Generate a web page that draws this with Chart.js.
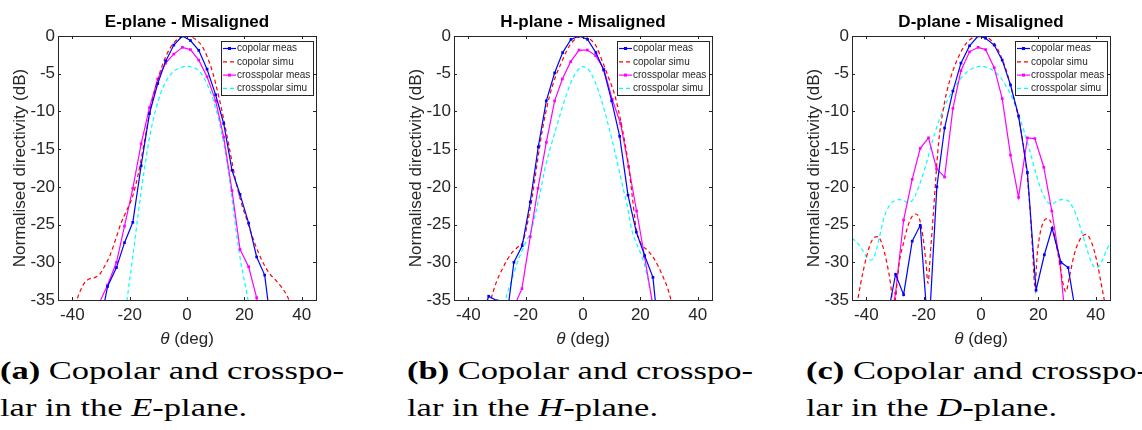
<!DOCTYPE html>
<html>
<head>
<meta charset="utf-8">
<script src="https://cdn.jsdelivr.net/npm/chart.js@4.4.1/dist/chart.umd.min.js"></script>
<style>
  html, body { margin: 0; padding: 0; background: #fff; }
  body { width: 1142px; height: 430px; position: relative; overflow: hidden; }
  .panel { position: absolute; top: 0; width: 330px; height: 350px; }
  .caption {
    position: absolute; top: 352px;
    font-family: 'Liberation Serif', serif; font-size: 25px; line-height: 37px;
    color: #000; white-space: nowrap;
    transform-origin: 0 0; transform: scaleX(1.38);
  }
</style>
</head>
<body>
<div class="panel" style="left:0px"><canvas id="chartE"></canvas></div>
<div class="panel" style="left:396px"><canvas id="chartH"></canvas></div>
<div class="panel" style="left:794px"><canvas id="chartD"></canvas></div>

<div class="caption" style="left:0px"><b>(a)</b> Copolar and crosspo-<br>lar in the <i>E</i>-plane.</div>
<div class="caption" style="left:407px"><b>(b)</b> Copolar and crosspo-<br>lar in the <i>H</i>-plane.</div>
<div class="caption" style="left:806px"><b>(c)</b> Copolar and crosspo-<br>lar in the <i>D</i>-plane.</div>

<script>
const thetaTicks = [-40, -20, 0, 20, 40];
const dbTicks = [0, -5, -10, -15, -20, -25, -30, -35];
const seriesLabels = ['copolar meas', 'copolar simu', 'crosspolar meas', 'crosspolar simu'];
const planeTitles = ['E-plane - Misaligned', 'H-plane - Misaligned', 'D-plane - Misaligned'];

// E-plane, [theta (deg), dB]
const eCopolarMeas = [[-30.6,-38.8],[-27.7,-33.2],[-24.6,-30.7],[-21.8,-27.4],[-18.9,-24.7],[-16,-17.2],[-13.1,-10.3],[-10.2,-6.3],[-7.4,-3.3],[-4.6,-1.2],[-1.6,0],[1.2,-0.6],[4.1,-1.9],[7,-4.4],[10,-7.8],[12.8,-11.6],[15.7,-17.8],[18.5,-21],[21.5,-24.8],[24.3,-29.3],[27.1,-31.7],[30,-40.5]];
const eCopolarSimu = [[-40,-37.5],[-38.4,-35],[-37,-33.6],[-35.5,-32.6],[-34,-32.2],[-32,-32],[-30.5,-31.6],[-29,-30.7],[-27,-29.2],[-25,-27.1],[-23,-24.8],[-21,-23.1],[-19,-21.3],[-17,-18.3],[-15,-14.3],[-13,-10.2],[-11,-6.9],[-9,-4.3],[-7,-2.4],[-5,-1.1],[-3,-0.35],[-1,-0.02],[0,0],[1,-0.05],[3,-0.45],[5,-1.2],[7,-2.7],[9,-4.9],[11,-7.9],[13,-11.4],[15,-15.3],[17,-19.2],[19,-22.2],[21,-24.5],[23,-26.8],[25,-28.8],[27,-30.4],[29,-31.6],[31,-32.4],[33,-33.3],[35,-34.5],[36.5,-36]];
const eCrossMeas = [[-30.6,-35.4],[-27.7,-33],[-24.6,-30],[-21.8,-25.2],[-18.9,-20.2],[-16,-14.3],[-13.1,-9.5],[-10.2,-5.7],[-7.5,-3.6],[-4.6,-2.4],[-1.6,-1.5],[1.2,-1.8],[4.1,-3.2],[7,-5.4],[10,-8.6],[12.8,-13.4],[15.7,-20.5],[18.5,-28.3],[21.5,-30.6],[24.3,-34.7],[27.1,-45]];
const eCrossSimu = [[-21.5,-37],[-20.9,-35],[-19,-29.5],[-17,-23.5],[-15,-18],[-13,-13.3],[-11,-9.9],[-9,-7.4],[-7,-5.8],[-5,-4.8],[-3,-4.3],[-1,-4.05],[0,-4],[1,-4.05],[3,-4.3],[5,-5],[7,-6.4],[9,-8.3],[11,-11],[13,-14.6],[15,-19.5],[17,-25.5],[19,-30.5],[21,-34.4],[22,-37]];

// H-plane
const hCopolarMeas = [[-35.8,-38],[-32.9,-34.5],[-30,-35.1],[-27,-38.5],[-24.1,-30],[-21.2,-27.8],[-18.4,-22],[-15.6,-14.7],[-12.8,-8.6],[-9.9,-4.9],[-7.1,-2.2],[-4.2,-0.45],[-1.3,0],[1.6,-0.45],[4.5,-2.2],[7.2,-4.5],[10,-8.6],[12.8,-13.3],[15.7,-21.1],[18.6,-26],[21.5,-29.1],[24.4,-32],[27.3,-43]];
const hCopolarSimu = [[-34,-37.5],[-32.2,-35],[-30,-32.4],[-28,-30.8],[-26.5,-29.7],[-24.5,-28.6],[-22.8,-28],[-21.3,-27.5],[-20.2,-26.3],[-19.2,-24.5],[-17.7,-21.3],[-16,-16.9],[-14.2,-12.5],[-11.7,-8],[-9.5,-5.3],[-7.6,-3.6],[-5.5,-1.8],[-3.5,-0.7],[-1.5,-0.15],[0,0],[1.5,-0.15],[3,-0.6],[4.5,-1.3],[6.8,-3.4],[9,-5.6],[11.2,-8],[13.8,-12.5],[15.8,-16.9],[17.2,-21.3],[18.6,-25.7],[19.6,-27],[20.5,-27.7],[22.5,-28.4],[24.4,-29.3],[26.2,-30.5],[27.9,-31.9],[29.5,-33.4],[30.7,-35],[32,-37]];
const hCrossMeas = [[-24.2,-36],[-21.3,-33.5],[-18.4,-26.6],[-15.7,-20.2],[-12.8,-14.1],[-9.9,-8.6],[-7.2,-5.7],[-4.3,-3.4],[-1.4,-1.86],[1.5,-1.86],[4.4,-2.6],[7.3,-4.4],[10.2,-8.4],[13.1,-11.6],[15.9,-17.3],[18.7,-23.2],[21.5,-29.3],[24.4,-35.8]];
const hCrossSimu = [[-28,-37.5],[-27,-35],[-24.8,-32.3],[-22.5,-29.6],[-20,-27.4],[-18,-25.7],[-16.3,-23.1],[-14.8,-20.5],[-13.4,-17.8],[-11.5,-15],[-9.6,-12.5],[-7.8,-10.2],[-6,-8],[-4,-6],[-2,-4.6],[0,-4.05],[2,-4.5],[4,-5.9],[6,-8],[7.7,-10.2],[9.3,-12.5],[11,-15.2],[12.6,-17.8],[14,-20.2],[15.5,-22.6],[17,-25.7],[18.7,-27.5],[20.3,-29],[21.5,-30.4],[22.8,-32.5],[24,-35],[25,-37.5]];

// D-plane
const dCopolarMeas = [[-32.7,-37.4],[-29.8,-31.6],[-27,-34.3],[-24,-27.2],[-21.2,-25.1],[-18.3,-40],[-15.4,-20],[-12.7,-12.2],[-9.8,-7.3],[-7,-3.6],[-4,-1.3],[-1,0],[1.6,-0.3],[4.6,-1.2],[7.4,-3.2],[10.3,-6.5],[13.1,-10.6],[16.2,-18.1],[19.2,-33.7],[22.1,-29],[24.8,-25.5],[27.9,-30],[30.4,-30.7],[33.3,-37.3]];
const dCopolarSimu = [[-44,-37.5],[-43,-35],[-41,-31],[-39,-28],[-37.5,-26.8],[-36,-26.6],[-34.5,-27.6],[-33,-29.8],[-31.5,-33],[-30.5,-36.5],[-29.5,-33.5],[-28.5,-30],[-27,-27.4],[-25.5,-25.2],[-24,-23.9],[-22.8,-23.6],[-21.5,-24.2],[-20.3,-26.5],[-19.2,-30],[-18.5,-32.8],[-17.6,-28.5],[-16.7,-24],[-15.8,-19],[-14.8,-14.2],[-13.5,-10.5],[-12,-7.5],[-10.5,-5.4],[-9,-3.8],[-7,-2.1],[-5,-0.9],[-3,-0.25],[-1,0],[1,-0.05],[3,-0.4],[5,-1.2],[7,-2.7],[9,-4.8],[11,-7.6],[13,-10.7],[14.5,-13.8],[16,-18.2],[17.2,-23.5],[18,-28.5],[18.8,-33.2],[19.6,-29],[20.7,-26],[22,-24.5],[23.3,-24.2],[24.7,-25],[26,-27.2],[27.5,-30.3],[28.6,-32.8],[29.6,-33.9],[30.8,-32],[32.5,-29],[34.5,-27],[36.6,-26.3],[38.5,-27.3],[40.5,-30],[42,-33],[43,-35],[44,-37.5]];
const dCrossMeas = [[-32.7,-40],[-29.8,-34.1],[-27,-24.4],[-24,-19],[-21.2,-14.9],[-18.3,-13.5],[-15.5,-17.6],[-12.7,-18.7],[-9.8,-9.6],[-7,-4.6],[-4,-2.1],[-1,-1.5],[1.6,-1.8],[4.6,-4.2],[7.4,-8.3],[10.3,-15.8],[13.1,-21.4],[16.2,-13.5],[18.8,-13.6],[21.9,-17.4],[24.7,-23.2],[27.6,-30.2],[30.5,-42]];
const dCrossSimu = [[-45,-26.8],[-43,-27.5],[-41,-28.6],[-39.5,-29.5],[-38.3,-29.7],[-37,-29],[-35.5,-26.8],[-34,-24.3],[-32,-22.5],[-30,-21.8],[-28.5,-21.7],[-27,-21.8],[-25.5,-22.1],[-24.5,-22],[-23,-21.2],[-21,-19.2],[-19,-16.8],[-17,-14],[-15,-11.6],[-13,-9.6],[-11,-8],[-9,-6.7],[-7,-5.6],[-5,-4.8],[-3,-4.3],[-1,-4.05],[0,-4],[1,-4.05],[3,-4.3],[5,-4.8],[7,-5.6],[9,-6.8],[11,-8.3],[13,-10.3],[15,-12.6],[17,-15.2],[19,-18],[21,-20.4],[22.8,-21.8],[24.4,-22.3],[26,-22],[28,-21.7],[29.5,-21.7],[31,-22.1],[33,-23.5],[35,-25.8],[37,-28.3],[38.5,-30],[40,-30.7],[41,-30.6],[42.5,-29.6],[44,-28.2],[45,-27.6]];

const styles = [
    { color: '#0000ff', dash: [], points: true },
    { color: '#ff0000', dash: [4, 3], points: false },
    { color: '#ff00ff', dash: [], points: true },
    { color: '#00ffff', dash: [4, 3], points: false }
];

const sansFont = '"Liberation Sans", Arial, sans-serif';
Chart.defaults.font.family = sansFont;
Chart.defaults.color = '#262626';

// MATLAB style box with inward ticks on all four sides
const matlabBox = {
    id: 'matlabBox',
    afterDatasetsDraw(chart) {
        const { ctx, chartArea: a, scales: { x, y } } = chart;
        ctx.save();
        ctx.strokeStyle = '#262626';
        ctx.lineWidth = 1;
        ctx.beginPath();
        x.ticks.forEach(t => {
            const px = Math.round(x.getPixelForValue(t.value)) + 0.5;
            ctx.moveTo(px, a.bottom); ctx.lineTo(px, a.bottom - 3);
            ctx.moveTo(px, a.top); ctx.lineTo(px, a.top + 3);
        });
        y.ticks.forEach(t => {
            const py = Math.round(y.getPixelForValue(t.value)) + 0.5;
            ctx.moveTo(a.left, py); ctx.lineTo(a.left + 3, py);
            ctx.moveTo(a.right, py); ctx.lineTo(a.right - 3, py);
        });
        ctx.stroke();
        ctx.strokeRect(Math.round(a.left) + 0.5, Math.round(a.top) + 0.5, Math.round(a.width), Math.round(a.height));

        // x label with an italic theta, centred under the axes
        const label = [['italic 17px ' + sansFont, 'θ'], ['17px ' + sansFont, ' (deg)']];
        let total = 0;
        label.forEach(([f, t]) => { ctx.font = f; total += ctx.measureText(t).width; });
        let lx = (a.left + a.right) / 2 - total / 2;
        ctx.fillStyle = '#262626';
        ctx.textBaseline = 'middle';
        ctx.textAlign = 'left';
        label.forEach(([f, t]) => {
            ctx.font = f;
            ctx.fillText(t, lx, 339);
            lx += ctx.measureText(t).width;
        });
        ctx.restore();
    }
};

// boxed legend in the top right corner of the axes
const boxLegend = {
    id: 'boxLegend',
    afterDraw(chart) {
        const { ctx, chartArea: a } = chart;
        const w = 92, h = 54;
        const left = Math.round(a.right - 3 - w), top = Math.round(a.top + 5);
        ctx.save();
        ctx.fillStyle = '#fff';
        ctx.fillRect(left, top, w, h);
        ctx.strokeStyle = '#262626';
        ctx.lineWidth = 1;
        ctx.strokeRect(left + 0.5, top + 0.5, w, h);
        ctx.font = '10px ' + sansFont;
        ctx.textBaseline = 'middle';
        chart.data.datasets.forEach((ds, i) => {
            const cy = top + 7.5 + i * 13.3;
            ctx.strokeStyle = ds.borderColor;
            ctx.lineWidth = ds.borderWidth;
            ctx.setLineDash(ds.borderDash);
            ctx.beginPath();
            ctx.moveTo(left + 2, cy);
            ctx.lineTo(left + 15, cy);
            ctx.stroke();
            ctx.setLineDash([]);
            if (ds.pointRadius > 0) {
                ctx.fillStyle = ds.borderColor;
                ctx.fillRect(left + 7, cy - 1.5, 3, 3);
            }
            ctx.fillStyle = '#262626';
            ctx.fillText(ds.label, left + 16, cy);
        });
        ctx.restore();
    }
};

function toPoints(pairs) {
    return pairs.map(p => ({ x: p[0], y: p[1] }));
}

function buildPlane(canvasId, title, series) {
    const datasets = series.map((s, i) => ({
        label: seriesLabels[i],
        data: toPoints(s),
        borderColor: styles[i].color,
        backgroundColor: styles[i].color,
        borderWidth: 1.2,
        borderDash: styles[i].dash,
        pointStyle: 'rect',
        pointRadius: styles[i].points ? 1.9 : 0,
        pointBorderWidth: 0,
        tension: 0,
        cubicInterpolationMode: styles[i].points ? 'default' : 'monotone',
        fill: false
    }));

    return new Chart(document.getElementById(canvasId), {
        type: 'line',
        data: { datasets },
        options: {
            responsive: true,
            maintainAspectRatio: false,
            animation: false,
            layout: { padding: { left: 0, right: 14, top: 0, bottom: 0 } },
            scales: {
                x: {
                    type: 'linear', min: -45, max: 45,
                    afterBuildTicks: s => { s.ticks = thetaTicks.map(v => ({ value: v })); },
                    afterFit: s => { s.height = 50; },
                    grid: { display: false, drawTicks: false },
                    border: { display: false },
                    ticks: { padding: 5, font: { size: 17 }, color: '#262626' },
                    title: { display: false }
                },
                y: {
                    type: 'linear', min: -35, max: 0,
                    afterBuildTicks: s => { s.ticks = dbTicks.map(v => ({ value: v })); },
                    afterFit: s => { s.width = 58; },
                    grid: { display: false, drawTicks: false },
                    border: { display: false },
                    ticks: { padding: 3, font: { size: 17 }, color: '#262626' },
                    title: { display: true, text: 'Normalised directivity (dB)', font: { size: 17 }, color: '#262626', padding: { top: 10, bottom: 0 } }
                }
            },
            plugins: {
                legend: { display: false },
                tooltip: { enabled: false },
                title: {
                    display: true, text: title, fullSize: false,
                    font: { size: 17, weight: 'bold' }, color: '#000',
                    padding: { top: 12, bottom: 3.6 }
                }
            }
        },
        plugins: [matlabBox, boxLegend]
    });
}

buildPlane('chartE', planeTitles[0], [eCopolarMeas, eCopolarSimu, eCrossMeas, eCrossSimu]);
buildPlane('chartH', planeTitles[1], [hCopolarMeas, hCopolarSimu, hCrossMeas, hCrossSimu]);
buildPlane('chartD', planeTitles[2], [dCopolarMeas, dCopolarSimu, dCrossMeas, dCrossSimu]);
</script>
</body>
</html>
